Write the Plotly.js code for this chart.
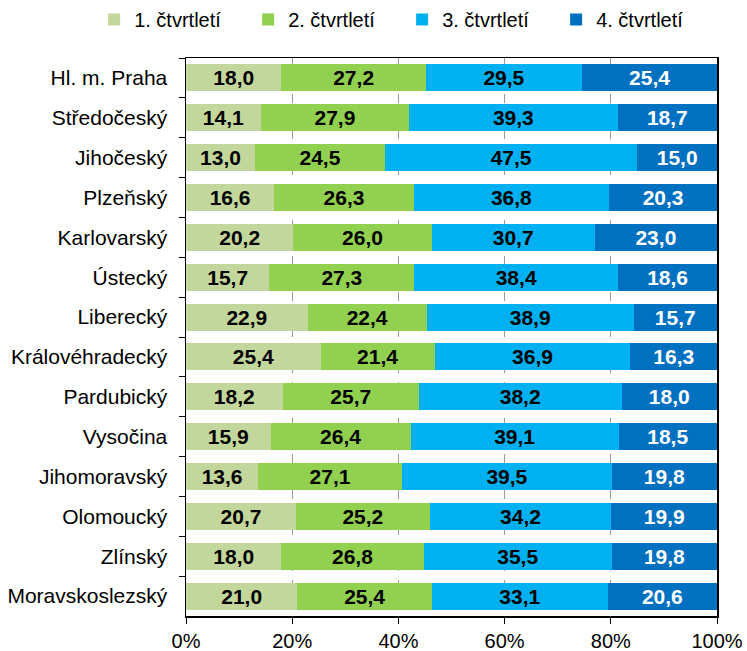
<!DOCTYPE html>
<html>
<head>
<meta charset="utf-8">
<script src="https://cdn.plot.ly/plotly-3.0.1.min.js"></script>
<style>
  body { margin: 0; background: #fff; }
  #chart { width: 747px; height: 651px; }
</style>
</head>
<body>
<div id="chart"></div>
<script>
let regions = ['Hl. m. Praha', 'Středočeský', 'Jihočeský', 'Plzeňský', 'Karlovarský', 'Ústecký',
  'Liberecký', 'Královéhradecký', 'Pardubický', 'Vysočina', 'Jihomoravský', 'Olomoucký',
  'Zlínský', 'Moravskoslezský'];

let q1 = [18.0, 14.1, 13.0, 16.6, 20.2, 15.7, 22.9, 25.4, 18.2, 15.9, 13.6, 20.7, 18.0, 21.0];
let q2 = [27.2, 27.9, 24.5, 26.3, 26.0, 27.3, 22.4, 21.4, 25.7, 26.4, 27.1, 25.2, 26.8, 25.4];
let q3 = [29.5, 39.3, 47.5, 36.8, 30.7, 38.4, 38.9, 36.9, 38.2, 39.1, 39.5, 34.2, 35.5, 33.1];
let q4 = [25.4, 18.7, 15.0, 20.3, 23.0, 18.6, 15.7, 16.3, 18.0, 18.5, 19.8, 19.9, 19.8, 20.6];

let seriesNames = ['1. čtvrtletí', '2. čtvrtletí', '3. čtvrtletí', '4. čtvrtletí'];
let seriesValues = [q1, q2, q3, q4];
let seriesColors = ['#C3D69B', '#92D050', '#00B0F0', '#0070C0'];
let labelColors = ['#000000', '#000000', '#000000', '#FFFFFF'];

let fontFam = 'Liberation Sans, Arial, sans-serif';

let data = seriesValues.map((vals, i) => ({
  type: 'bar',
  orientation: 'h',
  name: seriesNames[i],
  y: regions,
  x: vals,
  text: vals.map(v => v.toFixed(1).replace('.', ',')),
  textposition: 'inside',
  insidetextanchor: 'middle',
  constraintext: 'none',
  textfont: { family: fontFam, size: 21, color: labelColors[i], weight: 'bold' },
  marker: { color: seriesColors[i], line: { width: 0 } },
  hoverinfo: 'skip'
}));

let layout = {
  width: 747,
  height: 651,
  barmode: 'stack',
  barnorm: 'percent',
  bargap: 0.32,
  margin: { l: 186, r: 30, t: 58, b: 35, autoexpand: false },
  paper_bgcolor: '#fff',
  plot_bgcolor: '#fff',
  font: { family: fontFam, size: 21, color: '#000' },
  showlegend: true,
  legend: {
    orientation: 'h',
    x: -0.173, xanchor: 'left',
    y: 1.104, yanchor: 'top',
    font: { size: 20 },
    itemwidth: 30,
    entrywidth: 109,
    entrywidthmode: 'pixels',
    traceorder: 'normal',
    bgcolor: 'rgba(0,0,0,0)'
  },
  xaxis: {
    range: [0, 100],
    tickvals: [0, 20, 40, 60, 80, 100],
    ticktext: ['0%', '20%', '40%', '60%', '80%', '100%'],
    showgrid: true,
    gridcolor: '#9a9a9a',
    griddash: 'dash',
    gridwidth: 1,
    zeroline: false,
    showline: true,
    linecolor: '#000',
    linewidth: 1.5,
    mirror: true,
    ticks: 'outside',
    ticklen: 6,
    tickcolor: '#000',
    tickfont: { size: 20 },
    fixedrange: true
  },
  yaxis: {
    type: 'category',
    autorange: 'reversed',
    showgrid: false,
    zeroline: false,
    showline: true,
    linecolor: '#000',
    linewidth: 1.5,
    mirror: true,
    ticks: 'outside',
    tickson: 'boundaries',
    ticklen: 6,
    tickcolor: '#000',
    ticklabelstandoff: 13,
    tickfont: { size: 21 },
    fixedrange: true
  }
};

Plotly.newPlot('chart', data, layout, { displayModeBar: false, staticPlot: true });
</script>
</body>
</html>
